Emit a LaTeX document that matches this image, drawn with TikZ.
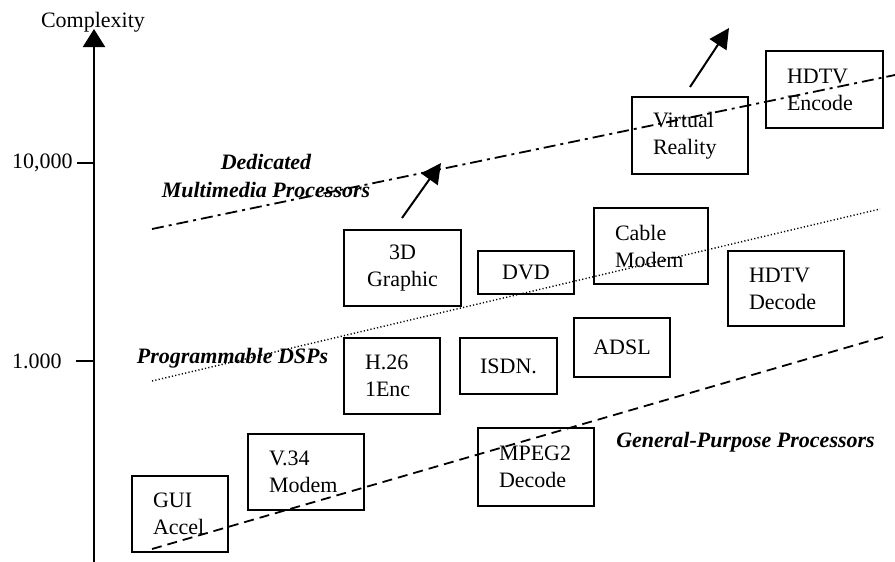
\documentclass[tikz,border=0pt]{standalone}
\usepackage{fontspec}
\setmainfont{Liberation Serif}
\usetikzlibrary{arrows.meta}
\tikzset{
  every node/.style={font=\fontsize{11}{13.5}\selectfont},
  box/.style={draw, line width=1pt, align=center, inner sep=0pt},
  lbox/.style={box, align=left, inner xsep=10.5pt, text width=#1},
  trend/.style={line width=0.9pt},
  klass/.style={font=\fontsize{11}{14}\selectfont\bfseries\itshape, align=center},
  growarrow/.style={line width=1pt, -{Triangle[length=10pt,width=10pt]}}
}
\begin{document}
\begin{tikzpicture}[x=0.5pt,y=-0.5pt]
      \useasboundingbox (0,0) rectangle (895,562);
      % Axes
      \coordinate (ybot) at (94,562);
      \coordinate (ytop) at (94,29);
      \draw[line width=1pt, -{Triangle[length=9pt,width=11pt]}] (ybot) -- (ytop);
      \node (ylabel) at (93,22) {Complexity};
      \draw[line width=1pt] (77,163) -- (94,163);
      \node[anchor=east, inner sep=1pt] (t10k) at (75,163) {10,000};
      \draw[line width=1pt] (76,361) -- (94,361);
      \node[anchor=east, inner sep=1pt] (t1k) at (64,361) {1.000};

      % Trend lines
      \coordinate (dmA) at (152,229);
      \coordinate (dmB) at (895,75);
      \draw[trend, dash pattern=on 6pt off 2.5pt on 1.5pt off 2.5pt] (dmA) -- (dmB);
      \coordinate (dspA) at (152,381);
      \coordinate (dspB) at (880,209);
      \draw[line width=0.7pt, dash pattern=on 0.6pt off 1.1pt] (dspA) -- (dspB);
      \coordinate (gpA) at (152,549);
      \coordinate (gpB) at (883,337);
      \draw[trend, dash pattern=on 5pt off 3pt] (gpA) -- (gpB);

      % Classes
      \node[klass] (ded) at (266,176) {Dedicated\\Multimedia Processors};
      \node[klass, anchor=base] (prog) at (232.5,363) {Programmable DSPs};
      \node[klass, anchor=base] (gen) at (745.5,447) {General-Purpose Processors};

      % Applications
      \node[lbox=37pt, minimum height=38.5pt] (vr) at (690,135.5) {Virtual\\Reality};
      \node[lbox=37.5pt, minimum height=38.5pt] (hdtvenc) at (824.5,89.5) {HDTV\\Encode};
      \node[box, minimum width=58.5pt, minimum height=38pt] (gfx) at (402.5,268) {3D\\Graphic};
      \node[box, minimum width=48pt, minimum height=21.5pt] (dvd) at (526,272.5) {DVD};
      \node[lbox=36pt, minimum height=38pt] (cable) at (651,246) {Cable\\Modem};
      \node[lbox=37pt, minimum height=37.5pt] (hdtvdec) at (786,288.5) {HDTV\\Decode};
      \node[box, minimum width=48pt, minimum height=29.5pt] (adsl) at (622,347.5) {ADSL};
      \node[box, minimum width=48.5pt, minimum height=28pt] (isdn) at (508.5,366) {ISDN.};
      \node[lbox=27pt, minimum height=38pt] (h261) at (392,376) {H.26\\1Enc};
      \node[lbox=37pt, minimum height=38pt] (v34) at (306,472) {V.34\\Modem};
      \node[lbox=27pt, minimum height=38pt] (gui) at (180,514) {GUI\\Accel};
      \node[lbox=37pt, minimum height=39pt] (mpeg) at (536,467) {MPEG2\\Decode};

      % Growth arrows
      \coordinate (g1a) at (402,218);
      \coordinate (g1b) at (441,163);
      \draw[growarrow] (g1a) -- (g1b);
      \coordinate (g2a) at (690,87);
      \coordinate (g2b) at (729,28);
      \draw[growarrow] (g2a) -- (g2b);
\end{tikzpicture}
\end{document}
